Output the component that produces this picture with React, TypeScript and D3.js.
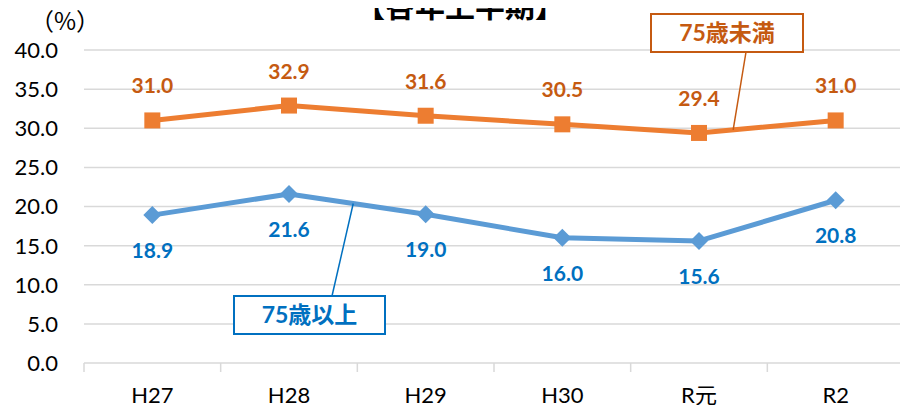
import { useEffect, useRef } from "react";
import * as d3 from "d3";

const categories = ["H27", "H28", "H29", "H30", "R元", "R2"];
const under75 = [31.0, 32.9, 31.6, 30.5, 29.4, 31.0];
const over75 = [18.9, 21.6, 19.0, 16.0, 15.6, 20.8];
const yTicks = [0, 5, 10, 15, 20, 25, 30, 35, 40];

const W = 908;
const H = 413;
const ORANGE = "#ED7D31";
const ORANGE_TXT = "#C55A11";
const BLUE = "#5B9BD5";
const BLUE_TXT = "#0070C0";
const FONT = "Lato, 'Noto Sans CJK JP', sans-serif";

export default function App() {
  const svgRef = useRef<SVGSVGElement>(null);

  useEffect(() => {
    if (!svgRef.current) return;
    const svg = d3.select(svgRef.current);
    svg.selectAll("*").remove();

    const x = d3.scaleBand().domain(categories).range([84, 904]);
    const y = d3.scaleLinear().domain([0, 40]).range([363, 50]);
    const cx = (i: number) => (x(categories[i]) ?? 0) + x.bandwidth() / 2;

    // grid
    svg.append("g")
      .selectAll("line")
      .data(yTicks.slice(1))
      .enter()
      .append("line")
      .attr("x1", 84).attr("x2", 904)
      .attr("y1", d => y(d)).attr("y2", d => y(d))
      .attr("stroke", "#D9D9D9").attr("stroke-width", 1.5);

    // y labels
    svg.append("g")
      .selectAll("text")
      .data(yTicks)
      .enter()
      .append("text")
      .attr("x", 58).attr("y", d => y(d))
      .attr("dy", "0.36em")
      .attr("text-anchor", "end")
      .attr("font-family", FONT)
      .attr("font-size", 22)
      .attr("fill", "#000")
      .text(d => d.toFixed(1));

    svg.append("text")
      .attr("x", 65).attr("y", 30)
      .attr("text-anchor", "middle")
      .attr("font-family", "'Noto Sans CJK JP', sans-serif")
      .attr("font-size", 24)
      .text("（%）");

    // x axis
    const xAxis = svg.append("g").attr("transform", `translate(0,${y(0)})`);
    xAxis.append("line").attr("x1", 84).attr("x2", 904).attr("stroke", "#D9D9D9").attr("stroke-width", 1.5);
    const bounds = categories.map(c => x(c) ?? 0).concat([904]);
    xAxis.selectAll("line.tick")
      .data(bounds)
      .enter()
      .append("line")
      .attr("class", "tick")
      .attr("x1", d => d).attr("x2", d => d)
      .attr("y1", 0).attr("y2", 9)
      .attr("stroke", "#D9D9D9").attr("stroke-width", 1.5);
    xAxis.selectAll("text")
      .data(categories)
      .enter()
      .append("text")
      .attr("x", (_d, i) => cx(i))
      .attr("y", 40)
      .attr("text-anchor", "middle")
      .attr("font-family", FONT)
      .attr("font-size", 22)
      .text(d => d);

    const line = d3.line<number>().x((_d, i) => cx(i)).y(d => y(d));

    // orange series
    svg.append("path").datum(under75).attr("d", line)
      .attr("fill", "none").attr("stroke", ORANGE).attr("stroke-width", 5).attr("stroke-linejoin", "round");
    svg.append("g").selectAll("rect").data(under75).enter().append("rect")
      .attr("x", (_d, i) => cx(i) - 8).attr("y", d => y(d) - 8)
      .attr("width", 16).attr("height", 16).attr("fill", ORANGE);
    svg.append("g").selectAll("text").data(under75).enter().append("text")
      .attr("x", (_d, i) => cx(i)).attr("y", d => y(d) - 27)
      .attr("text-anchor", "middle")
      .attr("font-family", FONT).attr("font-weight", "bold").attr("font-size", 21)
      .attr("fill", ORANGE_TXT)
      .text(d => d.toFixed(1));

    // blue series
    svg.append("path").datum(over75).attr("d", line)
      .attr("fill", "none").attr("stroke", BLUE).attr("stroke-width", 5).attr("stroke-linejoin", "round");
    svg.append("g").selectAll("path").data(over75).enter().append("path")
      .attr("d", "M0,-9L9,0L0,9L-9,0Z")
      .attr("transform", (d, i) => `translate(${cx(i)},${y(d)})`)
      .attr("fill", BLUE);
    svg.append("g").selectAll("text").data(over75).enter().append("text")
      .attr("x", (_d, i) => cx(i)).attr("y", d => y(d) + 43)
      .attr("text-anchor", "middle")
      .attr("font-family", FONT).attr("font-weight", "bold").attr("font-size", 21)
      .attr("fill", BLUE_TXT)
      .text(d => d.toFixed(1));

    // callouts
    const callout = (
      label: string, color: string,
      bx: number, by: number, bw: number, bh: number,
      lx: number, ly: number, i0: number, t: number, data: number[]
    ) => {
      const ex = cx(i0) + (cx(i0 + 1) - cx(i0)) * t;
      const ey = y(data[i0] + (data[i0 + 1] - data[i0]) * t);
      svg.append("line").attr("x1", lx).attr("y1", ly).attr("x2", ex).attr("y2", ey)
        .attr("stroke", color).attr("stroke-width", 1.5);
      svg.append("rect").attr("x", bx).attr("y", by).attr("width", bw).attr("height", bh)
        .attr("fill", "#fff").attr("stroke", color).attr("stroke-width", 2);
      svg.append("text").attr("x", bx + bw / 2).attr("y", by + bh / 2).attr("dy", "0.36em")
        .attr("text-anchor", "middle")
        .attr("font-family", FONT).attr("font-weight", "bold").attr("font-size", 23)
        .attr("fill", color).text(label);
    };
    callout("75歳未満", ORANGE_TXT, 651, 14, 152, 38, 746, 52, 4, 0.25, under75);
    callout("75歳以上", BLUE_TXT, 234, 296, 151, 38, 332, 296, 1, 0.47, over75);

    // title (clipped at the top edge as in the source)
    svg.append("text")
      .attr("x", 460).attr("y", 17)
      .attr("text-anchor", "middle")
      .attr("font-family", "'Noto Sans CJK JP', sans-serif").attr("font-weight", "bold").attr("font-size", 30)
      .attr("fill", "#000")
      .text("【各年上半期】");
  }, []);

  return (
    <div style={{ margin: -8 }}>
      <svg ref={svgRef} width={W} height={H} style={{ display: "block", background: "#fff" }} />
    </div>
  );
}
